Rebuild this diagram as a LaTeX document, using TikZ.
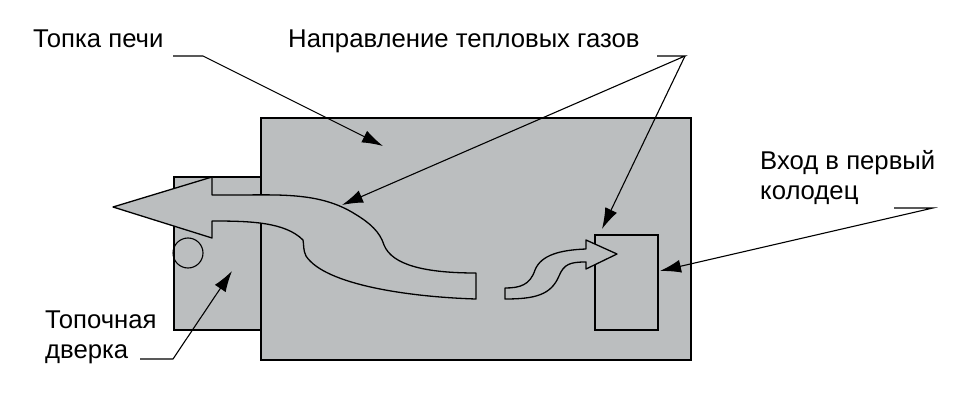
\documentclass[tikz,border=0pt]{standalone}
\usepackage{fontspec}
\setmainfont{Liberation Sans}
\usetikzlibrary{arrows.meta}

\definecolor{stovegray}{RGB}{187,190,191}

\tikzset{
	wall/.style = {draw, line width = 1.5pt, fill = stovegray},
	gas/.style = {draw, line width = 1.3pt, fill = stovegray, line join = round},
	leader/.style = {draw, line width = 1.1pt},
	caption/.style = {font = \fontsize{25.7}{30}\selectfont, inner sep = 0, align = left, anchor = west},
	title/.style = {caption, anchor = base west}
}

\begin{document}
\begin{tikzpicture}[x = 1pt, y = -1pt, > = {Latex[length = 21pt, width = 13pt]}]

\useasboundingbox (0, 0) rectangle (963, 401);

% Definitions

\def\R{15}

% Door box and furnace body

\draw [wall] (174, 177) rectangle (261, 330);
\draw [wall] (261, 118) rectangle (691, 360);
\draw [wall] (595, 235) rectangle (658, 330);

% Door handle

\node (handle) [draw, circle, line width = 1.1pt, minimum size = 2 * \R, inner sep = 0] at (188, 253) {};

% Long gas arrow

\draw [gas]
	(113, 207) -- (212, 177) -- (212, 195) -- (233, 195)
	.. controls (280, 195) and (320, 192) .. (355, 214)
	.. controls (370, 223) and (380, 232) .. (384, 245)
	.. controls (392, 265) and (425, 273) .. (476, 273)
	-- (476, 299)
	.. controls (410, 297) and (325, 285) .. (306, 256)
	.. controls (303, 250) and (304, 245) .. (303, 240)
	.. controls (285, 222) and (250, 221) .. (212, 221)
	-- (212, 238) -- cycle;

% Short gas arrow

\draw [gas]
	(505, 288)
	.. controls (520, 288) and (530, 285) .. (535, 270)
	.. controls (541, 255) and (560, 250) .. (586, 249)
	-- (586, 240) -- (617, 254) -- (586, 269) -- (586, 262)
	.. controls (570, 262) and (564, 264) .. (559, 276)
	.. controls (551, 295) and (535, 299) .. (505, 299)
	-- cycle;

% Labels

\node (furnace) [title] at (33, 48) {Топка печи};
\node (gases) [title] at (288, 48) {Направление тепловых газов};
\node (well) [caption] at (760, 178) {Вход в первый\\колодец};
\node (door) [caption] at (45, 337) {Топочная\\дверка};

% Leader points

\coordinate (furnace-start) at (173, 56);
\coordinate (furnace-bend) at (203, 56);
\coordinate (furnace-tip) at (383, 146);
\coordinate (gases-start) at (657, 56);
\coordinate (gases-bend) at (685, 56);
\coordinate (gases-long-tip) at (342, 205);
\coordinate (gases-short-tip) at (602, 229);
\coordinate (well-start) at (894, 208);
\coordinate (well-bend) at (933, 208);
\coordinate (well-tip) at (660, 271);
\coordinate (door-start) at (140, 359);
\coordinate (door-bend) at (173, 359);
\coordinate (door-tip) at (232, 271);

% Leaders

\draw [leader, ->] (furnace-start) -- (furnace-bend) -- (furnace-tip);
\draw [leader, ->] (gases-start) -- (gases-bend) -- (gases-long-tip);
\draw [leader, ->] (gases-bend) -- (gases-short-tip);
\draw [leader, ->] (well-start) -- (well-bend) -- (well-tip);
\draw [leader, ->] (door-start) -- (door-bend) -- (door-tip);

\end{tikzpicture}
\end{document}
